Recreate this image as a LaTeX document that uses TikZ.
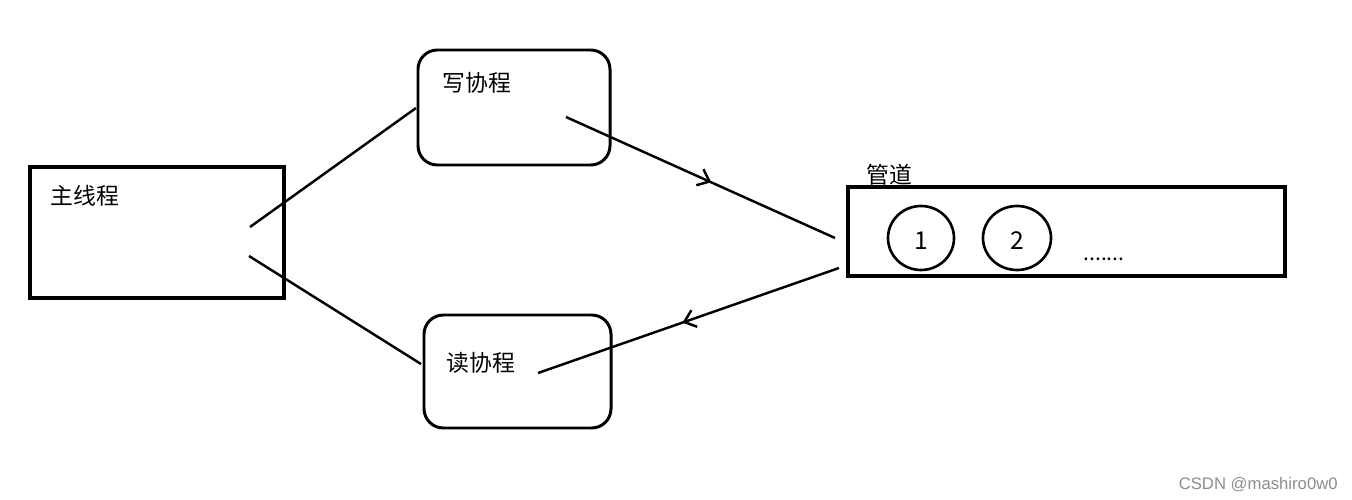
\documentclass[tikz,border=0pt]{standalone}
\usepackage{fontspec}
\setmainfont{Noto Sans CJK SC}
\newfontfamily\wmfont{Liberation Sans}
\usetikzlibrary{arrows.meta,decorations.markings}
\begin{document}
\begin{tikzpicture}[x=0.02cm,y=-0.02cm,
  box/.style={draw,line width=1.9pt},
  rbox/.style={draw,line width=1.7pt,rounded corners=11pt},
  ln/.style={line width=1.4pt},
  midarrow/.style={postaction={decorate},decoration={markings,mark=at position #1 with {\arrow[line width=1.4pt]{Straight Barb[length=6pt,width=10pt]}}}},
  lbl/.style={inner sep=0pt,anchor=west,font=\fontsize{13}{15}\selectfont},
]
\useasboundingbox (0,0) rectangle (1352,500);
% boxes
\node[box,minimum width=254*0.02cm,minimum height=131*0.02cm,inner sep=0pt] (main) at (157,232.5) {};
\node[rbox,minimum width=192*0.02cm,minimum height=115*0.02cm,inner sep=0pt] (wr) at (514,107.5) {};
\node[rbox,minimum width=187*0.02cm,minimum height=113*0.02cm,inner sep=0pt] (rd) at (517.5,371.5) {};
\node[box,minimum width=437*0.02cm,minimum height=89*0.02cm,inner sep=0pt] (pipe) at (1066.5,231.5) {};
% labels
\node[lbl] (tmain) at (50,196) {主线程};
\node[lbl] (twr) at (442,83) {写协程};
\node[lbl] (trd) at (446,363) {读协程};
\node[lbl] (tpipe) at (866,175) {管道};
% circles
\draw[line width=1.5pt] (921,238) ellipse [x radius=33, y radius=32];
\node[font=\fontsize{14}{16}\selectfont] (c1) at (921,241) {1};
\draw[line width=1.5pt] (1017,238) ellipse [x radius=34, y radius=32];
\node[font=\fontsize{14}{16}\selectfont] (c2) at (1017,241) {2};
\node[font=\fontsize{12}{14}\selectfont,inner sep=0pt] (dots) at (1104,259) {.......};
% connector endpoints
\coordinate (m1) at (250,227);
\coordinate (w1) at (416,108);
\coordinate (m2) at (249,256);
\coordinate (r1) at (421,364);
\coordinate (w2) at (566,117);
\coordinate (p1) at (835,238);
\coordinate (p2) at (839,268);
\coordinate (r2) at (538,373);
\draw[ln] (m1) -- (w1);
\draw[ln] (m2) -- (r1);
\draw[ln,midarrow=0.54] (w2) -- (p1);
\draw[ln,midarrow=0.52] (p2) -- (r2);
% watermark
\node[text=black!45,font=\wmfont\fontsize{9.5}{11}\selectfont,anchor=east,inner sep=0pt] (wm) at (1338,485) {CSDN @mashiro0w0};
\end{tikzpicture}
\end{document}
